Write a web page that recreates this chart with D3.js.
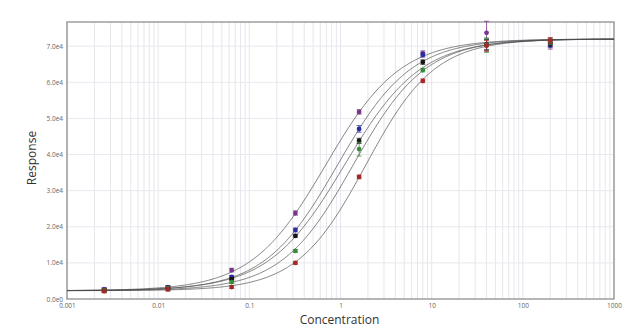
<!DOCTYPE html>
<html><head><meta charset="utf-8">
<script src="https://cdn.jsdelivr.net/npm/d3@7"></script>
<style>body{margin:0;background:#fff}svg{display:block}</style>
</head><body>
<svg id="chart" width="640" height="330"></svg>
<script>
const concentrations = [0.00256, 0.0128, 0.064, 0.32, 1.6, 8, 40, 200];
const seriesColors = ["#7a3688", "#2a2e9c", "#151515", "#3b8a3b", "#a52828"];
const purpleValues = [2600, 3200, 8000, 23800, 51800, 68000, 73700, 70200];
const blueValues   = [2500, 3100, 6100, 19100, 47100, 67600, 70500, 70600];
const blackValues  = [2400, 3000, 5500, 17500, 43800, 65600, 70400, 70900];
const greenValues  = [2300, 2900, 4700, 13300, 41500, 63400, 70300, 71300];
const redValues    = [2200, 2700, 3300, 10000, 33800, 60400, 70100, 71600];
const purpleErr = [600, 500, 500, 600, 600, 700, 3200, 1000];
const blueErr   = [500, 500, 400, 500, 900, 600, 1500, 900];
const blackErr  = [500, 500, 400, 400, 700, 600, 1500, 900];
const greenErr  = [500, 500, 400, 400, 1900, 500, 2000, 800];
const redErr    = [500, 500, 400, 400, 500, 500, 1500, 800];
// 4PL fit parameters per series
const fitBottom = [2300, 2300, 2300, 2300, 2300];
const fitTop = [72000, 72000, 72000, 72000, 72000];
const fitEC50 = [0.69, 0.93, 1.11, 1.38, 1.9];
const fitHill = [1.06, 1.08, 1.04, 1.1, 1.15];
const xTickLabels = ["0.001", "0.01", "0.1", "1", "10", "100", "1000"];
const yTickValues = [0, 10000, 20000, 30000, 40000, 50000, 60000, 70000];
const yTickLabels = ["0.0e0", "1.0e4", "2.0e4", "3.0e4", "4.0e4", "5.0e4", "6.0e4", "7.0e4"];

const seriesValues = [purpleValues, blueValues, blackValues, greenValues, redValues];
const seriesErr = [purpleErr, blueErr, blackErr, greenErr, redErr];

const svg = d3.select("#chart");
const L = 67, R = 614, T = 22, B = 299;
const x = d3.scaleLog().domain([0.001, 1000]).range([L, R]);
const y = d3.scaleLinear().domain([0, 76700]).range([B, T]);

// grid
const minor = [];
for (let e = -3; e < 3; e++) for (let m = 1; m <= 9; m++) minor.push(m * Math.pow(10, e));
minor.push(1000);
svg.append("g").selectAll("line").data(minor).join("line")
  .attr("x1", d => x(d)).attr("x2", d => x(d)).attr("y1", T).attr("y2", B)
  .attr("stroke", "#e6e6ec").attr("stroke-width", 1);
svg.append("g").selectAll("line").data(yTickValues.slice(1)).join("line")
  .attr("x1", L).attr("x2", R).attr("y1", d => y(d)).attr("y2", d => y(d))
  .attr("stroke", "#e8e8ee").attr("stroke-width", 1);

// frame
svg.append("rect").attr("x", L).attr("y", T).attr("width", R - L).attr("height", B - T)
  .attr("fill", "none").attr("stroke", "#8f8f8f").attr("stroke-width", 1.3);

// axes
const xAxis = d3.axisBottom(x).tickValues([0.001, 0.01, 0.1, 1, 10, 100, 1000])
  .tickFormat((d, i) => xTickLabels[i]).tickSize(0).tickPadding(4);
const gx = svg.append("g").attr("transform", `translate(0,${B})`).call(xAxis);
gx.select(".domain").remove();
gx.selectAll("text").attr("font-size", 6.5).attr("fill", "#666").attr("font-family", "Open Sans, sans-serif");

const yAxis = d3.axisLeft(y).tickValues(yTickValues)
  .tickFormat((d, i) => yTickLabels[i]).tickSize(0).tickPadding(4);
const gy = svg.append("g").attr("transform", `translate(${L},0)`).call(yAxis);
gy.select(".domain").remove();
gy.selectAll("text").attr("font-size", 6.5).attr("fill", "#666").attr("font-family", "Open Sans, sans-serif");

// curves
const curveX = d3.range(0, 601).map(i => Math.pow(10, -3 + i * 6 / 600));
const line = d3.line().x(d => x(d[0])).y(d => y(d[1]));
fitEC50.forEach((c, k) => {
  const pts = curveX.map(v => [v, fitBottom[k] + (fitTop[k] - fitBottom[k]) / (1 + Math.pow(c / v, fitHill[k]))]);
  svg.append("path").datum(pts).attr("d", line).attr("fill", "none")
    .attr("stroke", "#4a4a4a").attr("stroke-width", 0.7);
});

// error bars and points
seriesValues.forEach((vals, k) => {
  const g = svg.append("g");
  const data = vals.map((v, i) => ({c: concentrations[i], v, e: seriesErr[k][i]}));
  g.selectAll("line.e").data(data).join("line").attr("class", "e")
    .attr("x1", d => x(d.c)).attr("x2", d => x(d.c))
    .attr("y1", d => y(d.v - d.e)).attr("y2", d => y(d.v + d.e))
    .attr("stroke", seriesColors[k]).attr("stroke-width", 0.8);
  ["lo", "hi"].forEach(s => {
    g.selectAll("line." + s).data(data).join("line").attr("class", s)
      .attr("x1", d => x(d.c) - 2.5).attr("x2", d => x(d.c) + 2.5)
      .attr("y1", d => y(s === "lo" ? d.v - d.e : d.v + d.e))
      .attr("y2", d => y(s === "lo" ? d.v - d.e : d.v + d.e))
      .attr("stroke", seriesColors[k]).attr("stroke-width", 0.8);
  });
  g.selectAll("circle").data(data).join("circle")
    .attr("cx", d => x(d.c)).attr("cy", d => y(d.v)).attr("r", 2.4)
    .attr("fill", seriesColors[k]);
});

// titles
svg.append("text").attr("x", (L + R) / 2 - 1).attr("y", 324).attr("text-anchor", "middle")
  .attr("font-size", 12).attr("fill", "#333").attr("font-family", "Open Sans, sans-serif")
  .text("Concentration");
svg.append("text").attr("transform", "translate(36,158) rotate(-90)").attr("text-anchor", "middle")
  .attr("font-size", 12).attr("fill", "#333").attr("font-family", "Open Sans, sans-serif")
  .text("Response");
</script>
</body></html>
